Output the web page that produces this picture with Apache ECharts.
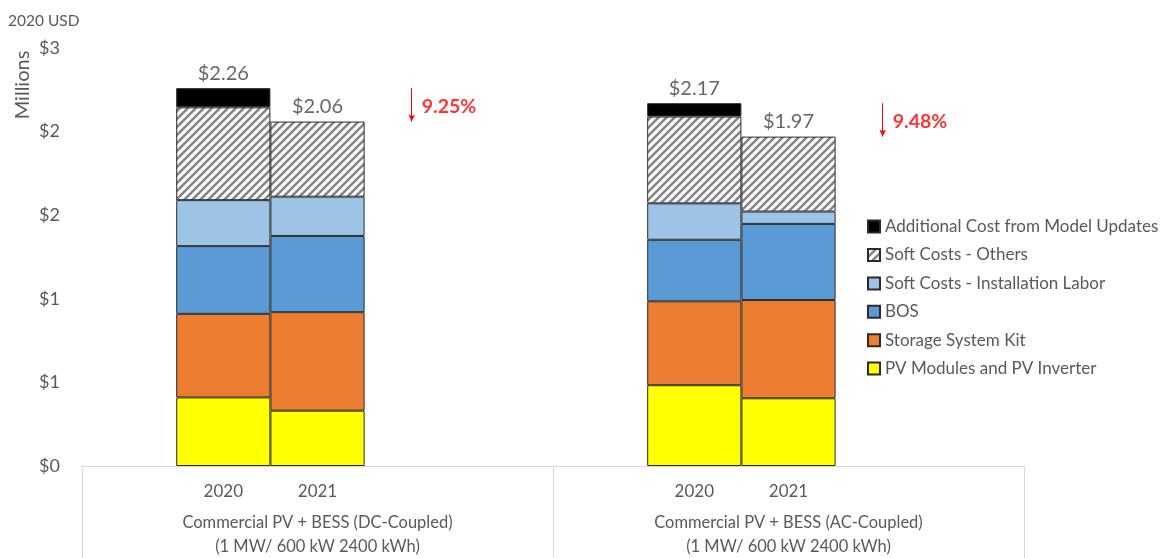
<!DOCTYPE html>
<html>
<head>
<meta charset="utf-8">
<script src="https://cdn.jsdelivr.net/npm/echarts@6/dist/echarts.min.js"></script>
<style>
  html, body { margin: 0; padding: 0; background: #fff; }
  #chart { width: 1162px; height: 558px; }
</style>
</head>
<body>
<div id="chart"></div>
<script>
// Axis slots: each project group gets five slots; bars sit in slots 1-2 and 6-7.
const slotLabels = ['', '2020', '2021', '', '', '', '2020', '2021', '', ''];
const groupLabels = [
  'Commercial PV + BESS (DC-Coupled)\n(1 MW/ 600 kW 2400 kWh)',
  'Commercial PV + BESS (AC-Coupled)\n(1 MW/ 600 kW 2400 kWh)'
];
const barSlots = [1, 2, 6, 7];

// Cost components, millions of 2020 USD: [DC 2020, DC 2021, AC 2020, AC 2021]
const pvModules    = [0.410, 0.331, 0.483, 0.405];
const storageKit   = [0.500, 0.589, 0.502, 0.588];
const bos          = [0.405, 0.456, 0.368, 0.455];
const installLabor = [0.275, 0.235, 0.218, 0.074];
const softOthers   = [0.555, 0.449, 0.519, 0.448];
const additional   = [0.115, null, 0.080, null];
const totals       = [2.26, 2.06, 2.17, 1.97];

// Year-over-year change per group, drawn beside each pair
const changeSlots = [3, 8];
const changeFrom  = [2.26, 2.17];
const changeTo    = [2.06, 1.97];
const changeText  = ['9.25%', '9.48%'];

const yTicks = { min: 0, max: 2.5, interval: 0.5 };

const FONT = 'Lato, "Open Sans", sans-serif';
const GREY = '#595959';

function toSlots(values) {
  const out = slotLabels.map(() => null);
  values.forEach((v, i) => { out[barSlots[i]] = v; });
  return out;
}

function hatchPattern() {
  const c = document.createElement('canvas');
  c.width = 8; c.height = 8;
  const g = c.getContext('2d');
  g.fillStyle = '#ffffff';
  g.fillRect(0, 0, 8, 8);
  g.strokeStyle = '#858585';
  g.lineWidth = 2.6;
  g.beginPath();
  g.moveTo(0, 8); g.lineTo(8, 0);
  g.moveTo(-4, 4); g.lineTo(4, -4);
  g.moveTo(4, 12); g.lineTo(12, 4);
  g.stroke();
  return c;
}

const segments = [
  { name: 'PV Modules and PV Inverter', values: pvModules, color: '#ffff00' },
  { name: 'Storage System Kit', values: storageKit, color: '#ed7d31' },
  { name: 'BOS', values: bos, color: '#5b9bd5' },
  { name: 'Soft Costs - Installation Labor', values: installLabor, color: '#9dc3e6' },
  { name: 'Soft Costs - Others', values: softOthers, color: { image: hatchPattern(), repeat: 'repeat' } },
  { name: 'Additional Cost from Model Updates', values: additional, color: '#000000' }
];

const barSeries = segments.map(s => ({
  name: s.name,
  type: 'bar',
  stack: 'cost',
  barCategoryGap: '0%',
  data: toSlots(s.values),
  itemStyle: { color: s.color, borderColor: '#2b2b2b', borderWidth: 1 },
  emphasis: { disabled: true }
}));

const chart = echarts.init(document.getElementById('chart'), null, { renderer: 'canvas' });

chart.setOption({
  animation: false,
  backgroundColor: '#ffffff',
  textStyle: { fontFamily: FONT },
  title: {
    text: '2020 USD',
    left: 8, top: 13, padding: 0,
    textStyle: { fontFamily: FONT, fontSize: 15.5, fontWeight: 'normal', color: GREY }
  },
  graphic: [{
    type: 'text',
    x: 23, y: 85,
    rotation: Math.PI / 2,
    style: { text: 'Millions', font: '20px ' + FONT, fill: GREY, align: 'center', verticalAlign: 'middle' }
  }],
  legend: {
    orient: 'vertical',
    left: 867, top: 218, padding: 0,
    itemWidth: 12, itemHeight: 12, itemGap: 11.2,
    icon: 'rect',
    selectedMode: false,
    data: segments.map(s => s.name).reverse(),
    textStyle: { fontFamily: FONT, fontSize: 17, color: GREY, lineHeight: 17.2 }
  },
  grid: { left: 82, right: 138, top: 48, bottom: 92, outerBoundsMode: 'none' },
  xAxis: [{
    type: 'category',
    data: slotLabels.map((_, i) => String(i)),
    axisLine: { lineStyle: { color: '#d9d9d9', width: 1 } },
    axisTick: { show: false },
    axisLabel: {
      interval: 0, margin: 17,
      fontFamily: FONT, fontSize: 17, color: GREY,
      formatter: (v, i) => slotLabels[i]
    }
  }, {
    type: 'category',
    position: 'bottom',
    data: groupLabels,
    axisLine: { show: false },
    axisTick: { show: true, length: 92, lineStyle: { color: '#d9d9d9', width: 1 } },
    axisLabel: {
      interval: 0, margin: 45,
      fontFamily: FONT, fontSize: 16.5, color: GREY, lineHeight: 24
    }
  }],
  yAxis: {
    type: 'value',
    min: yTicks.min, max: yTicks.max, interval: yTicks.interval,
    axisLine: { show: false },
    axisTick: { show: false },
    splitLine: { show: false },
    axisLabel: {
      margin: 22,
      fontFamily: FONT, fontSize: 18, color: GREY,
      formatter: v => '$' + Math.round(v)
    }
  },
  series: [
    ...barSeries,
    {
      name: 'totals',
      type: 'scatter',
      symbolSize: 0,
      itemStyle: { color: 'rgba(0,0,0,0)' },
      data: totals.map((v, i) => [barSlots[i], v]),
      label: {
        show: true, position: 'top', distance: 5,
        fontFamily: FONT, fontSize: 20, color: '#404040',
        formatter: p => '$' + p.value[1].toFixed(2)
      },
      silent: true
    },
    {
      name: 'change',
      type: 'scatter',
      symbolSize: 0,
      itemStyle: { color: 'rgba(0,0,0,0)' },
      data: changeSlots.map((s, i) => [s, (changeFrom[i] + changeTo[i]) / 2]),
      label: {
        show: true, position: 'right', distance: 10, offset: [0, 2],
        fontFamily: FONT, fontSize: 19.5, fontWeight: 'bold', color: '#ff0000',
        formatter: p => changeText[p.dataIndex]
      },
      markLine: {
        silent: true,
        symbol: ['none', 'arrow'],
        symbolSize: [5, 7],
        lineStyle: { color: '#ff0000', width: 1, type: 'solid' },
        label: { show: false },
        emphasis: { disabled: true },
        data: changeSlots.map((s, i) => [
          { coord: [s, changeFrom[i]] },
          { coord: [s, changeTo[i]] }
        ])
      },
      silent: true
    }
  ]
});
</script>
</body>
</html>
